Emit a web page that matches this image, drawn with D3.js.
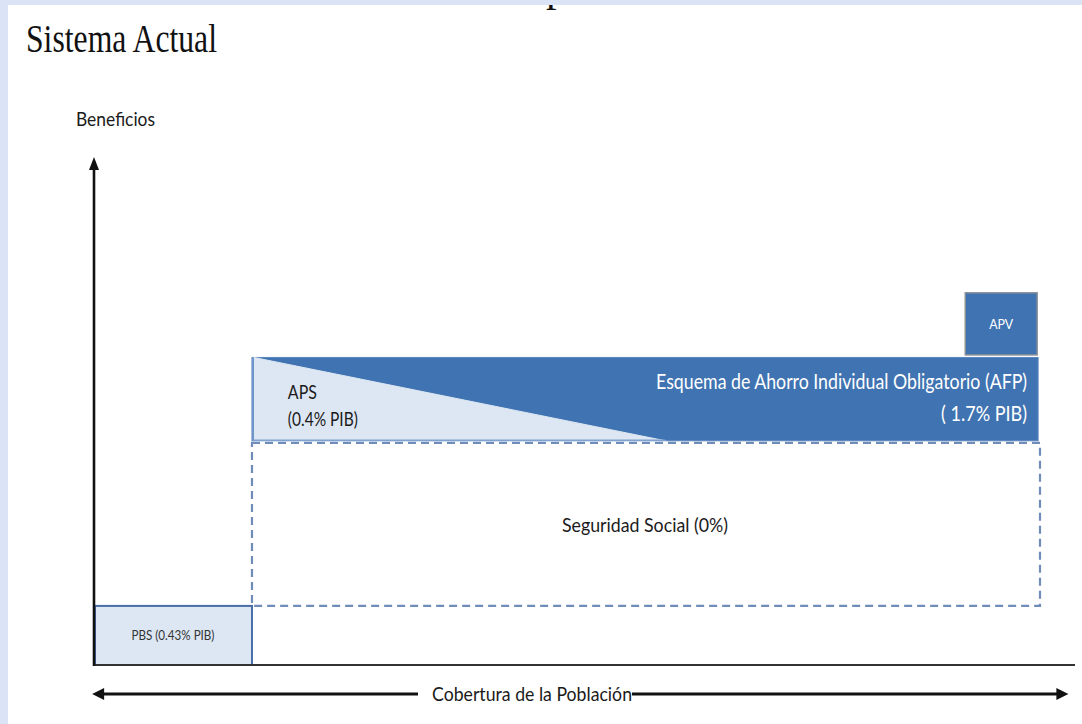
<!DOCTYPE html>
<html><head><meta charset="utf-8">
<script src="https://cdn.jsdelivr.net/npm/d3@7"></script>
<style>
html,body{margin:0;padding:0;background:#dbe4f7;}
svg{display:block;}
</style></head>
<body>
<svg id="chart" width="1082" height="724"></svg>
<script>
// ---- data (conceptual units: coverage 0-100, benefit 0-100) ----
const blockNames   = ["PBS", "Seguridad Social", "AFP", "APV"];
const blockX0      = [0,     16.7,  16.7,  92.1];
const blockX1      = [16.7,  100,   99.8,  99.7];
const blockY0      = [0,     11.7,  44.4,  61.4];
const blockY1      = [11.7,  44.0,  60.9,  73.7];
const apsX         = [16.9, 16.9, 60.4];
const apsY         = [60.9, 44.4, 44.4];
const axisMax      = [103.7, 100.6];
const coverageArrow = [-0.2, 103.0];

const title        = "Sistema Actual";
const yAxisLabel   = "Beneficios";
const xAxisLabel   = "Cobertura de la Población";
const labelPBS     = "PBS (0.43% PIB)";
const labelSS      = "Seguridad Social (0%)";
const labelAFP     = ["Esquema de Ahorro Individual Obligatorio (AFP)", "( 1.7% PIB)"];
const labelAPS     = ["APS", "(0.4% PIB)"];
const labelAPV     = "APV";

// ---- scales ----
const x = d3.scaleLinear().domain([0, 100]).range([94, 1040]);
const y = d3.scaleLinear().domain([0, 100]).range([665, 160]);

const svg = d3.select("#chart");
const sans = "Lato, 'Open Sans', sans-serif";

// panel
svg.append("defs").append("clipPath").attr("id","panel")
  .append("rect").attr("x",8).attr("y",5).attr("width",1074).attr("height",719);
svg.append("rect").attr("x",8).attr("y",5).attr("width",1074).attr("height",719).attr("fill","#ffffff");

// stray glyph at top (cut off)
svg.append("text").attr("clip-path","url(#panel)")
  .attr("x",546).attr("y",1).attr("font-family","'Liberation Serif', serif")
  .attr("font-size",42).attr("fill","#111").text("p");

// title
svg.append("text").attr("x",26).attr("y",52)
  .attr("font-family","'Liberation Serif', 'DejaVu Serif', serif")
  .attr("font-size",41).attr("fill","#111")
  .attr("textLength",191).attr("lengthAdjust","spacingAndGlyphs").text(title);

// y label
svg.append("text").attr("x",76).attr("y",126)
  .attr("font-family",sans).attr("font-size",19).attr("fill","#1a1a1a")
  .attr("textLength",79).attr("lengthAdjust","spacingAndGlyphs").text(yAxisLabel);

const idx = n => blockNames.indexOf(n);
function rectOf(i){ return {x:x(blockX0[i]), y:y(blockY1[i]), w:x(blockX1[i])-x(blockX0[i]), h:y(blockY0[i])-y(blockY1[i])}; }

// Seguridad Social dashed
{
  const r = rectOf(idx("Seguridad Social"));
  svg.append("rect").attr("x",r.x).attr("y",r.y).attr("width",r.w).attr("height",r.h)
    .attr("fill","none").attr("stroke","#6f8db8").attr("stroke-width",2.2)
    .attr("stroke-dasharray","8,5");
  svg.append("text").attr("x",r.x + r.w/2 - 1).attr("y",r.y + r.h/2 + 8)
    .attr("text-anchor","middle").attr("font-family",sans).attr("font-size",19).attr("fill","#1a1a1a")
    .attr("textLength",166).attr("lengthAdjust","spacingAndGlyphs").text(labelSS);
}

// AFP block
{
  const r = rectOf(idx("AFP"));
  svg.append("rect").attr("x",r.x).attr("y",r.y).attr("width",r.w).attr("height",r.h)
    .attr("fill","#3f73b1").attr("stroke","#5b86bd").attr("stroke-width",1);
  svg.append("text").attr("x",r.x + r.w - 11).attr("y",r.y + 32)
    .attr("text-anchor","end").attr("font-family",sans).attr("font-size",21).attr("fill","#ffffff")
    .attr("textLength",371).attr("lengthAdjust","spacingAndGlyphs").text(labelAFP[0]);
  svg.append("text").attr("x",r.x + r.w - 11).attr("y",r.y + 64)
    .attr("text-anchor","end").attr("font-family",sans).attr("font-size",21).attr("fill","#ffffff")
    .attr("textLength",86).attr("lengthAdjust","spacingAndGlyphs").text(labelAFP[1]);
}

// APS triangle
{
  const pts = apsX.map((v,i)=>[x(v), y(apsY[i])]);
  svg.append("path").attr("d", d3.line()(pts) + "Z")
    .attr("fill","#dde7f3").attr("stroke","#dde7f3").attr("stroke-width",1);
  svg.append("line").attr("x1",x(blockX0[idx("AFP")])+1).attr("x2",x(blockX0[idx("AFP")])+1)
    .attr("y1",y(blockY1[idx("AFP")])).attr("y2",y(blockY0[idx("AFP")]))
    .attr("stroke","#6f95c8").attr("stroke-width",2);
  svg.append("line").attr("x1",x(apsX[0])).attr("x2",x(apsX[2]))
    .attr("y1",y(apsY[1])-0.5).attr("y2",y(apsY[2])-0.5)
    .attr("stroke","#7fa2d0").attr("stroke-width",1.5);
  svg.append("text").attr("x",x(apsX[0])+34).attr("y",y(apsY[0])+42)
    .attr("font-family",sans).attr("font-size",19).attr("fill","#1a1a1a")
    .attr("textLength",29).attr("lengthAdjust","spacingAndGlyphs").text(labelAPS[0]);
  svg.append("text").attr("x",x(apsX[0])+34).attr("y",y(apsY[0])+69)
    .attr("font-family",sans).attr("font-size",19).attr("fill","#1a1a1a")
    .attr("textLength",70).attr("lengthAdjust","spacingAndGlyphs").text(labelAPS[1]);
}

// APV block
{
  const r = rectOf(idx("APV"));
  svg.append("rect").attr("x",r.x).attr("y",r.y).attr("width",r.w).attr("height",r.h)
    .attr("fill","#3f73b1").attr("stroke","#8a8f96").attr("stroke-width",1.5);
  svg.append("text").attr("x",r.x + r.w/2).attr("y",r.y + r.h/2 + 5)
    .attr("text-anchor","middle").attr("font-family",sans).attr("font-size",13).attr("fill","#ffffff")
    .attr("textLength",24).attr("lengthAdjust","spacingAndGlyphs").text(labelAPV);
}

// PBS block
{
  const r = rectOf(idx("PBS"));
  svg.append("rect").attr("x",r.x+1).attr("y",r.y).attr("width",r.w-1).attr("height",r.h)
    .attr("fill","#dde7f3").attr("stroke","#4b6ea8").attr("stroke-width",2);
  svg.append("text").attr("x",r.x + r.w/2).attr("y",r.y + r.h/2 + 5)
    .attr("text-anchor","middle").attr("font-family",sans).attr("font-size",13).attr("fill","#333")
    .attr("textLength",83).attr("lengthAdjust","spacingAndGlyphs").text(labelPBS);
}

// axes
const x0 = x(0), y0 = y(0);
svg.append("line").attr("x1",x0).attr("x2",x(axisMax[0])).attr("y1",y0).attr("y2",y0)
  .attr("stroke","#333").attr("stroke-width",2.2);
svg.append("line").attr("x1",x0).attr("x2",x0).attr("y1",y0+1).attr("y2",y(axisMax[1])+8)
  .attr("stroke","#111").attr("stroke-width",2.6);
svg.append("path")
  .attr("d",`M${x0},${y(axisMax[1])} L${x0-5},${y(axisMax[1])+13} L${x0+5},${y(axisMax[1])+13} Z`)
  .attr("fill","#111");

// coverage arrow
const ay = 694;
const leftTip = x(coverageArrow[0]), rightTip = x(coverageArrow[1]);
svg.append("line").attr("x1",leftTip+10).attr("x2",418).attr("y1",ay).attr("y2",ay)
  .attr("stroke","#111").attr("stroke-width",3);
svg.append("line").attr("x1",632).attr("x2",rightTip-10).attr("y1",ay).attr("y2",ay)
  .attr("stroke","#111").attr("stroke-width",3);
svg.append("path").attr("d",`M${leftTip},${ay} L${leftTip+12},${ay-6} L${leftTip+12},${ay+6} Z`).attr("fill","#111");
svg.append("path").attr("d",`M${rightTip},${ay} L${rightTip-12},${ay-6} L${rightTip-12},${ay+6} Z`).attr("fill","#111");
svg.append("text").attr("x",432).attr("y",701)
  .attr("font-family",sans).attr("font-size",19).attr("fill","#1a1a1a")
  .attr("textLength",200).attr("lengthAdjust","spacingAndGlyphs").text(xAxisLabel);
</script>
</body></html>
